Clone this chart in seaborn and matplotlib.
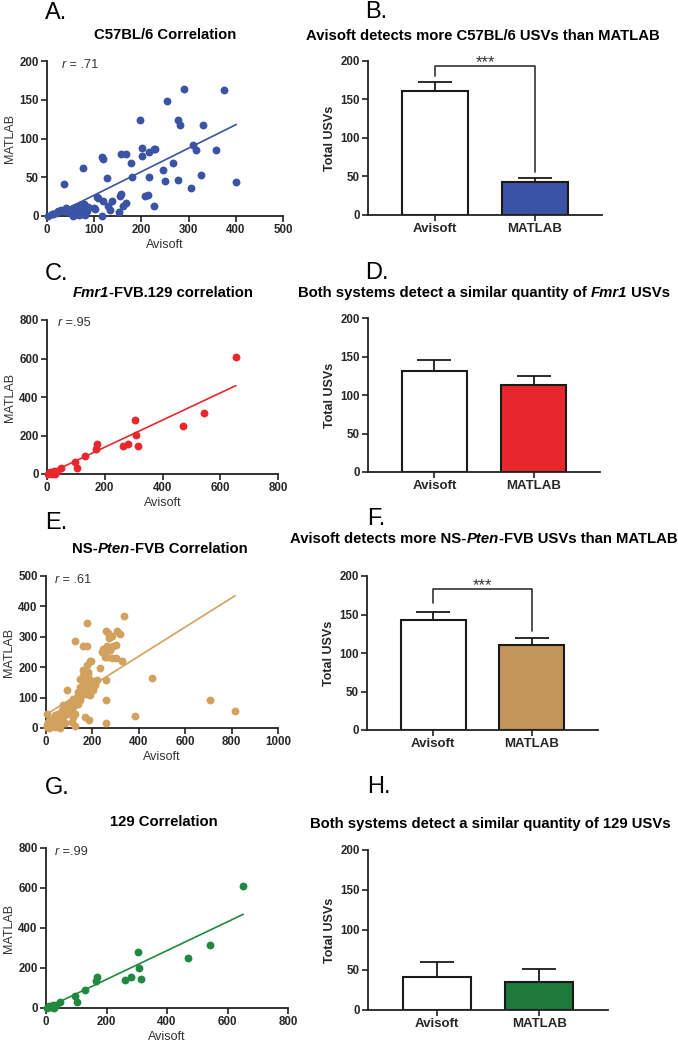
import numpy as np
import pandas as pd
import matplotlib
matplotlib.use("Agg")
import matplotlib.pyplot as plt
import seaborn as sns

sns.set_style("ticks")
plt.rcParams['font.family'] = ['Liberation Sans', 'DejaVu Sans']

# ---------------- data ----------------
# A: C57BL/6, Avisoft (x) vs MATLAB (y)
c57_avisoft = [3, 10, 13, 20, 24, 27, 30, 35, 37, 40, 42, 46, 49, 52, 55, 56, 59, 61, 64, 66,
               67, 68, 70, 72, 73, 76, 77, 79, 81, 84, 86,
               76, 100, 102, 106, 107, 116, 116, 118, 119, 128, 130, 133, 137, 152, 154, 156,
               156, 162, 168, 168, 179, 181, 198, 202, 202, 208, 215, 217, 217, 226, 226, 229,
               245, 251, 255, 268, 277, 277, 282, 291, 305, 310, 315, 326, 331, 359, 375, 401]
c57_matlab = [0, 2, 3, 4, 6, 6, 8, 7, 41, 10, 9, 5, 6, 3, 0, 10, 3, 12, 8, 2,
              11, 1, 14, 5, 3, 14, 9, 15, 1, 6, 12,
              62, 10, 9, 24, 23, 76, 0, 73, 19, 49, 13, 8, 20, 5, 26, 29,
              80, 13, 17, 80, 68, 50, 124, 88, 77, 26, 27, 83, 50, 86, 13, 86,
              59, 45, 148, 68, 124, 47, 117, 164, 36, 91, 85, 53, 118, 85, 163, 44]
c57_fit = (0.303, -3.4)          # slope, intercept of the drawn line

# C: Fmr1-FVB.129
fmr1_avisoft = [2, 12, 17, 23, 26, 35, 48, 97, 105, 131, 169, 173, 262, 282, 304, 308, 316, 470, 543, 654]
fmr1_matlab = [0, 10, 2, 16, 2, 14, 30, 64, 33, 94, 132, 157, 144, 158, 280, 202, 148, 250, 315, 609]
fmr1_fit = (0.705, -2.0)

# E: NS-Pten-FVB
pten_avisoft = [815, 708, 456, 385, 336, 257, 257, 257, 329, 178, 124, 161, 178, 234,
                257, 268, 304, 318, 283, 273, 301, 287, 261, 247, 240, 254, 275, 261, 283, 301, 254,
                189, 196, 175, 161, 182, 158, 175, 189, 204, 218, 154, 168, 146, 182, 204, 161,
                139, 175, 154, 132, 118, 189, 92,
                110, 96, 82, 75, 67, 53, 39, 32, 17, 10, 3, 6, 25, 46, 60, 75, 89, 103, 118, 125,
                118, 110, 125, 60, 39, 3, 168, 187, 139, 146,
                12, 30, 50, 80, 20, 140, 150, 160, 170, 130, 100, 90, 65, 45, 35, 200, 210, 145,
                165, 180]
pten_matlab = [55, 91, 163, 40, 367, 159, 93, 18, 221, 344, 287, 270, 270, 199,
               319, 313, 319, 309, 302, 297, 272, 270, 270, 259, 251, 245, 256, 234, 229, 229, 232,
               221, 221, 207, 190, 185, 170, 168, 157, 146, 157, 157, 146, 135, 130, 124, 122,
               119, 113, 108, 102, 97, 108, 126,
               86, 80, 69, 75, 58, 47, 42, 31, 25, 20, 9, 3, 12, 20, 25, 36, 47, 58, 69, 47,
               36, 20, 5, 0, 3, 45, 36, 25, 80, 91,
               0, 8, 10, 15, 5, 100, 115, 130, 120, 90, 60, 70, 45, 30, 18, 155, 140, 160,
               180, 178]
pten_fit = (0.48, 44.0)

# G: 129
s129_avisoft = [2, 10, 18, 22, 26, 32, 46, 96, 103, 129, 165, 168, 262, 280, 303, 308, 315, 469, 541, 652]
s129_matlab = [0, 8, 3, 15, 2, 14, 30, 62, 32, 92, 134, 155, 140, 155, 280, 200, 147, 249, 314, 611]
s129_fit = (0.72, -1.0)

# bar panels: mean and SEM (upper only)
systems = ["Avisoft", "MATLAB"]
c57_means, c57_sem = [161.5, 43.5], [11.5, 4.0]
fmr1_means, fmr1_sem = [131, 113], [14, 12]
pten_means, pten_sem = [143, 111], [10.5, 9]
s129_means, s129_sem = [41.5, 34.5], [19, 16.5]
c57_bracket = [181, 193.5, 56]     # left leg bottom, top, right leg bottom
pten_bracket = [165, 183, 129]

blue, red, tan, green = "#3a53a4", "#e8272c", "#d2a15e", "#21893f"
tan_bar, green_bar = "#c4955a", "#1e7a3a"

W, H = 678, 1050
fig = plt.figure(figsize=(W / 100, H / 100), dpi=100)
renderer = fig.canvas.get_renderer()


def add_ax(left, right, top, bottom):
    return fig.add_axes([left / W, 1 - bottom / H, (right - left) / W, (bottom - top) / H])


def rich_text(x, y, pieces, size, ha="center", color="black"):
    # pieces: list of (text, style, weight); x, y in figure pixels (y from top)
    objs = []
    for s, st, wt in pieces:
        t = fig.text(0, 0, s, fontsize=size, fontstyle=st, fontweight=wt,
                     ha="left", va="center", color=color)
        objs.append(t)
    widths = [t.get_window_extent(renderer).width for t in objs]
    x0 = x - sum(widths) / 2 if ha == "center" else x
    for t, w in zip(objs, widths):
        t.set_position((x0 / W, 1 - y / H))
        x0 += w


def style_axes(ax, tick_size):
    sns.despine(ax=ax)
    for sp in ["left", "bottom"]:
        ax.spines[sp].set_linewidth(1.3)
        ax.spines[sp].set_color("#222222")
    ax.tick_params(direction="out", length=4, width=1.2, color="#222222",
                   labelsize=tick_size, pad=2)
    for lbl in ax.get_xticklabels() + ax.get_yticklabels():
        lbl.set_fontweight("bold")


def scatter_panel(pos, x, y, fit, color, xmax, xstep, ymax, ystep):
    ax = add_ax(*pos)
    sns.scatterplot(x=x, y=y, color=color, s=32, linewidth=0, ax=ax, clip_on=False, zorder=3)
    xs = np.array([min(x), max(x)])
    sns.lineplot(x=xs, y=fit[0] * xs + fit[1], color=color, linewidth=1.2, ax=ax, zorder=2)
    ax.set_xlim(0, xmax)
    ax.set_ylim(0, ymax)
    ax.set_xticks(np.arange(0, xmax + 1, xstep))
    ax.set_yticks(np.arange(0, ymax + 1, ystep))
    ax.set_xlabel("Avisoft", fontsize=9, color="#333333", labelpad=2)
    ax.set_ylabel("MATLAB", fontsize=9, color="#333333", labelpad=2)
    style_axes(ax, 8.3)
    return ax


def bar_panel(pos, means, sems, color, bracket=None):
    ax = add_ax(*pos)
    sns.barplot(x=systems, y=means, hue=systems, palette=["white", color], width=0.66,
                saturation=1, edgecolor="#1a1a1a", linewidth=1.5, legend=False,
                errorbar=None, ax=ax)
    ax.errorbar([0, 1], means, yerr=[[0, 0], sems], fmt="none", ecolor="#1a1a1a",
                elinewidth=1.3, capsize=12, capthick=1.3, zorder=4)
    if bracket is not None:
        ax.plot([0, 0, 1, 1], [bracket[0], bracket[1], bracket[1], bracket[2]],
                color="#333333", linewidth=1.2, clip_on=False)
        ax.text(0.5, bracket[1] + 4, "***", ha="center", va="center", fontsize=12,
                color="#333333", clip_on=False)
    ax.set_xlim(-0.67, 1.67)
    ax.set_ylim(0, 200)
    ax.set_yticks(np.arange(0, 201, 50))
    ax.set_xlabel("")
    ax.set_ylabel("Total USVs", fontsize=9, fontweight="bold", labelpad=3)
    style_axes(ax, 8.3)
    for lbl in ax.get_xticklabels():
        lbl.set_fontsize(9.5)
    return ax


# ---------------- panels ----------------
scatter_panel((47, 283, 61, 216), c57_avisoft, c57_matlab, c57_fit, blue, 500, 100, 200, 50)
bar_panel((368, 602, 61, 215), c57_means, c57_sem, blue, c57_bracket)
scatter_panel((47, 278, 320, 474), fmr1_avisoft, fmr1_matlab, fmr1_fit, red, 800, 200, 800, 200)
bar_panel((368, 600, 318, 472), fmr1_means, fmr1_sem, red)
scatter_panel((46, 278, 576, 728), pten_avisoft, pten_matlab, pten_fit, tan, 1000, 200, 500, 100)
bar_panel((367, 598, 576, 730), pten_means, pten_sem, tan_bar, pten_bracket)
scatter_panel((46, 288, 848, 1008), s129_avisoft, s129_matlab, s129_fit, green, 800, 200, 800, 200)
bar_panel((368, 608, 850, 1010), s129_means, s129_sem, green_bar)

# ---------------- titles, letters, r values ----------------
N, B, I = "normal", "bold", "italic"
TS = 10.7
rich_text(165, 35, [("C57BL/6 Correlation", N, B)], TS)
rich_text(483, 36, [("Avisoft detects more C57BL/6 USVs than MATLAB", N, B)], TS)
rich_text(163, 293, [("Fmr1", I, B), ("-FVB.129 correlation", N, B)], TS)
rich_text(484, 293, [("Both systems detect a similar quantity of ", N, B), ("Fmr1", I, B),
                     (" USVs", N, B)], TS)
rich_text(160, 549, [("NS-", N, B), ("Pten", I, B), ("-FVB Correlation", N, B)], TS)
rich_text(484, 539, [("Avisoft detects more NS-", N, B), ("Pten", I, B),
                     ("-FVB USVs than MATLAB", N, B)], TS)
rich_text(164, 822, [("129 Correlation", N, B)], TS)
rich_text(490, 824, [("Both systems detect a similar quantity of 129 USVs", N, B)], TS)

for lx, ly, letter in [(45, 13, "A."), (365, 12, "B."), (45, 274, "C."), (365, 273, "D."),
                       (45, 523, "E."), (367, 519, "F."), (45, 788, "G."), (367, 787, "H.")]:
    rich_text(lx, ly, [(letter, N, N)], 17, ha="left")

for rx, ry, rv in [(62, 65, " = .71"), (58, 323, " =.95"), (55, 580, " = .61"), (55, 852, " =.99")]:
    rich_text(rx, ry, [("r", I, N), (rv, N, N)], 9.2, ha="left", color="#333333")

fig.savefig("out.png", dpi=100)
